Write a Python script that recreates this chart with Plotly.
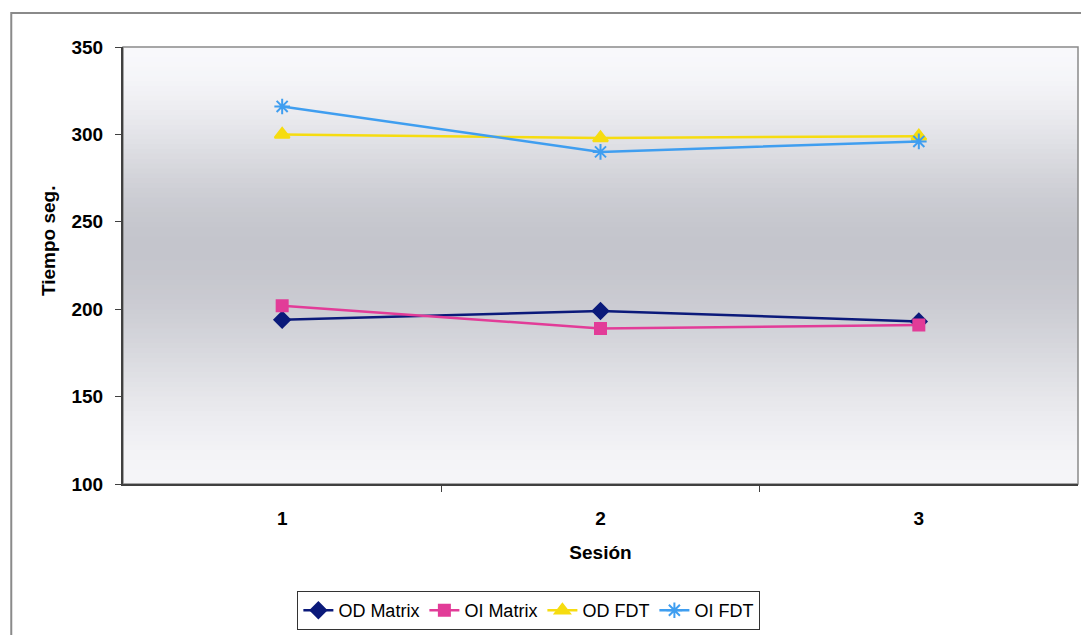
import plotly.graph_objects as go

# Sessions and mean times (seconds) for each eye / test
sesiones = [1, 2, 3]
od_matrix = [194, 199, 193]
oi_matrix = [202, 189, 191]
od_fdt = [300, 298, 299]
oi_fdt = [316, 290, 296]

y_ticks = [100, 150, 200, 250, 300, 350]

FONT = "Liberation Sans, Arial, sans-serif"

fig = go.Figure()

series = [
    ("OD Matrix", od_matrix, "#0b1a7a", "diamond", 12),
    ("OI Matrix", oi_matrix, "#e23c98", "square", 11),
    ("OD FDT", od_fdt, "#f6dc10", "triangle-up", 13),
    ("OI FDT", oi_fdt, "#3f9ef0", "asterisk-open", 13),
]
for name, vals, color, sym, size in series:
    fig.add_trace(go.Scatter(
        x=sesiones, y=vals, name=name, mode="lines+markers",
        line=dict(color=color, width=2.5),
        marker=dict(symbol=sym, size=size, color=color,
                    line=dict(color=color, width=2)),
    ))

# Vertical grey gradient for the plotting area (light at the edges, darker in the middle)
shapes = []
n = 90
top = (248, 248, 251)
mid = (196, 197, 204)
bot = (245, 245, 248)
peak = 0.54  # fraction from bottom where the band is darkest
for i in range(n):
    f0 = i / n
    f1 = (i + 1) / n
    fc = (f0 + f1) / 2
    if fc < peak:
        t = fc / peak
        a, b = bot, mid
    else:
        t = (fc - peak) / (1 - peak)
        a, b = mid, top
    t = t * t * (3 - 2 * t)
    col = tuple(round(a[k] + (b[k] - a[k]) * t) for k in range(3))
    shapes.append(dict(
        type="rect", xref="x domain", yref="y domain",
        x0=0, x1=1, y0=f0, y1=f1 + 0.002,
        fillcolor="rgb(%d,%d,%d)" % col, line=dict(width=0), layer="below",
    ))

# plot-area frame (top/right grey)
shapes.append(dict(type="rect", xref="x domain", yref="y domain",
                   x0=0, x1=1, y0=0, y1=1,
                   line=dict(color="#8a8a8a", width=1.5), layer="below"))
# outer chart border
shapes.append(dict(type="rect", xref="paper", yref="paper",
                   x0=-0.117, x1=1.02, y0=-0.6, y1=1.078,
                   line=dict(color="#8a8a8a", width=2)))

fig.update_layout(
    width=1081, height=635,
    margin=dict(l=123, r=3, t=47, b=151, autoexpand=False),
    paper_bgcolor="white", plot_bgcolor="white",
    font=dict(family=FONT, color="black"),
    shapes=shapes,
    showlegend=True,
    legend=dict(
        orientation="h", x=0.425, xanchor="center", y=-0.245, yanchor="top",
        bgcolor="white", bordercolor="#333333", borderwidth=1,
        font=dict(family=FONT, size=18, color="black"),
        itemwidth=30, tracegroupgap=0,
    ),
    annotations=[dict(
        text="<b>Tiempo seg.</b>", textangle=-90, showarrow=False,
        xref="paper", yref="paper", x=-0.0785, y=0.556,
        xanchor="center", yanchor="middle",
        font=dict(family=FONT, size=19, color="black"),
    )],
    xaxis=dict(
        range=[0.5, 3.5], tickvals=sesiones, ticktext=[str(s) for s in sesiones],
        ticks="", showgrid=False, zeroline=False,
        showline=True, linecolor="#404040", linewidth=2,
        tickfont=dict(family=FONT, size=19, color="black", weight="bold"),
        ticklabelstandoff=16,
        minor=dict(tickvals=[1.5, 2.5], ticks="outside", ticklen=6,
                   tickcolor="#404040", tickwidth=1, showgrid=False),
        title=dict(text="<b>Sesión</b>", font=dict(family=FONT, size=19), standoff=18),
    ),
    yaxis=dict(
        range=[100, 350], tickvals=y_ticks, ticks="outside", ticklen=6,
        tickcolor="#404040", showgrid=False, zeroline=False,
        showline=True, linecolor="#404040", linewidth=2,
        tickfont=dict(family=FONT, size=19, color="black", weight="bold"),
        ticklabelstandoff=8,
    ),
)

fig.write_html("out.html")
